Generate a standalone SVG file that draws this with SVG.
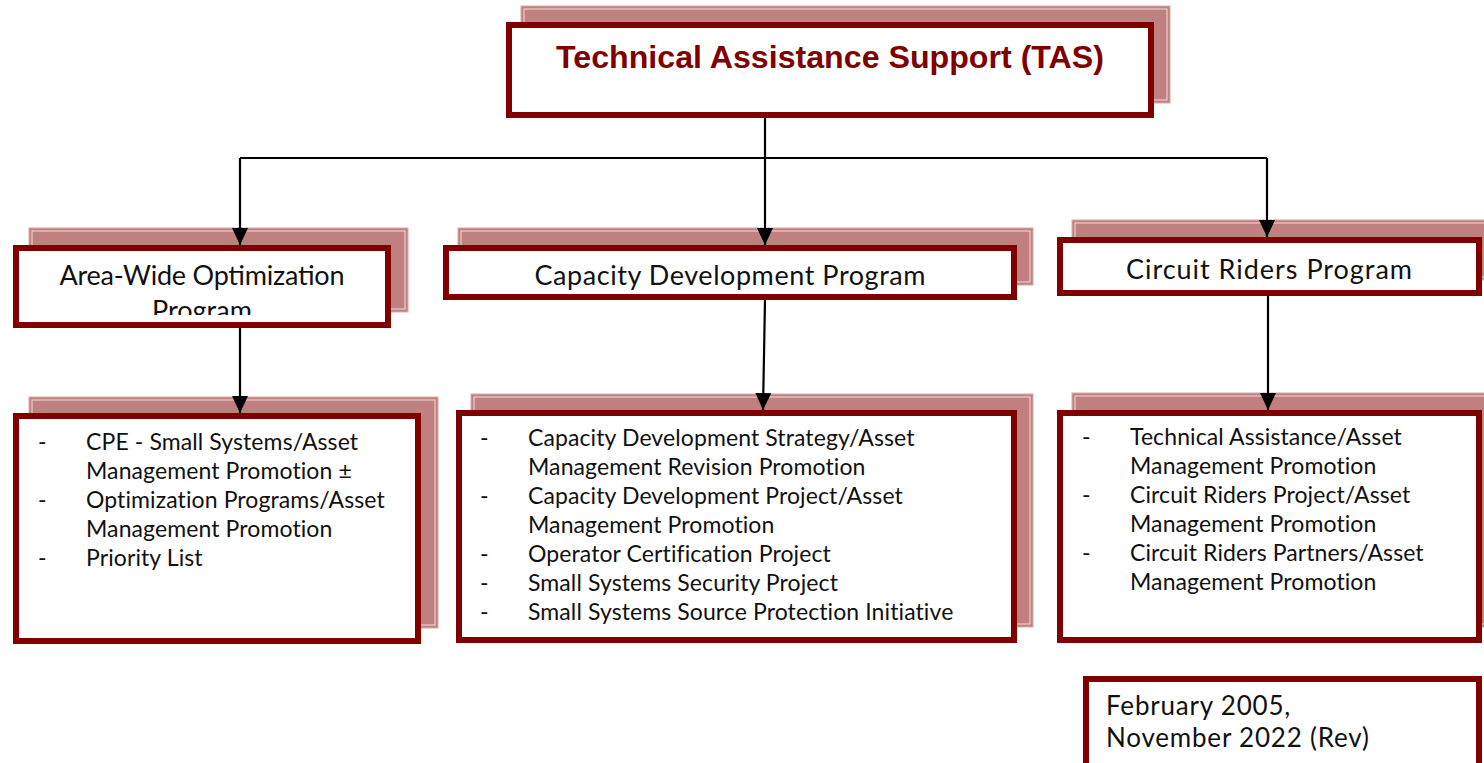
<svg xmlns="http://www.w3.org/2000/svg" width="1484" height="763" viewBox="0 0 1484 763">
<style>
.sh{fill:#C08080;stroke:#D9A8A8;stroke-width:1}
.shi{fill:none;stroke:#F2DCDC;stroke-width:1}
.bx{fill:#FFFFFF;stroke:#800000;stroke-width:6}
.title{font-family:"Liberation Sans",Arial,sans-serif;font-weight:bold;font-size:32px;fill:#800000}
.prog{font-family:"Lato","Open Sans",sans-serif;font-size:27px;fill:#111}
.item{font-family:"Lato","Open Sans",sans-serif;font-size:23px;letter-spacing:0.1px;fill:#111}
.date{font-family:"Lato","Open Sans",sans-serif;font-size:26px;letter-spacing:0.8px;fill:#111}
.conn{stroke:#000;stroke-width:2.2;fill:none}
</style>
<defs>
<marker id="ah" viewBox="0 0 17 16" refX="17" refY="8" markerWidth="17" markerHeight="16" markerUnits="userSpaceOnUse" orient="auto">
<path d="M0,0 L17,8 L0,16 Z" fill="#000"/>
</marker>
<clipPath id="clipAW"><rect x="19" y="251" width="366" height="64"/></clipPath>
</defs>
<rect width="1484" height="763" fill="#FFFFFF"/>

<g id="node-tas">
<rect class="sh" x="521" y="6" width="649" height="97"/>
<rect class="shi" x="524" y="9" width="643" height="91"/>
<rect class="bx" x="509" y="25" width="642" height="90"/>
<text class="title" x="830" y="68" text-anchor="middle" textLength="548" lengthAdjust="spacingAndGlyphs">Technical Assistance Support (TAS)</text>
</g>

<g id="node-awop">
<rect class="sh" x="29" y="228" width="379" height="84"/>
<rect class="shi" x="32" y="231" width="373" height="78"/>
<rect class="bx" x="16" y="248" width="372" height="77"/>
<g clip-path="url(#clipAW)">
<text class="prog" x="202" y="285" text-anchor="middle" textLength="285" lengthAdjust="spacing">Area-Wide Optimization</text>
<text class="prog" x="202" y="320" text-anchor="middle">Program</text>
</g>
</g>

<g id="node-cdp">
<rect class="sh" x="458" y="228" width="575" height="57"/>
<rect class="shi" x="461" y="231" width="569" height="51"/>
<rect class="bx" x="446" y="248" width="568" height="49"/>
<text class="prog" x="730" y="285" text-anchor="middle" textLength="391" lengthAdjust="spacing">Capacity Development Program</text>
</g>

<g id="node-crp">
<rect class="sh" x="1072" y="220" width="420" height="60"/>
<rect class="shi" x="1075" y="223" width="414" height="54"/>
<rect class="bx" x="1060" y="240" width="419" height="53"/>
<text class="prog" x="1269" y="279" text-anchor="middle" textLength="286" lengthAdjust="spacing">Circuit Riders Program</text>
</g>

<g id="node-awop-items">
<rect class="sh" x="29" y="397" width="409" height="231"/>
<rect class="shi" x="32" y="400" width="403" height="225"/>
<rect class="bx" x="16" y="416" width="402" height="225"/>
<g class="item">
<text x="38" y="450">-</text><text x="86" y="450">CPE - Small Systems/Asset</text>
<text x="86" y="479">Management Promotion ±</text>
<text x="38" y="508">-</text><text x="86" y="508">Optimization Programs/Asset</text>
<text x="86" y="537">Management Promotion</text>
<text x="38" y="566">-</text><text x="86" y="566">Priority List</text>
</g>
</g>

<g id="node-cdp-items">
<rect class="sh" x="471" y="394" width="562" height="233"/>
<rect class="shi" x="474" y="397" width="556" height="227"/>
<rect class="bx" x="459" y="413" width="555" height="227"/>
<g class="item">
<text x="480" y="446">-</text><text x="528" y="446">Capacity Development Strategy/Asset</text>
<text x="528" y="475">Management Revision Promotion</text>
<text x="480" y="504">-</text><text x="528" y="504">Capacity Development Project/Asset</text>
<text x="528" y="533">Management Promotion</text>
<text x="480" y="562">-</text><text x="528" y="562">Operator Certification Project</text>
<text x="480" y="591">-</text><text x="528" y="591">Small Systems Security Project</text>
<text x="480" y="620">-</text><text x="528" y="620">Small Systems Source Protection Initiative</text>
</g>
</g>

<g id="node-crp-items">
<rect class="sh" x="1072" y="393" width="420" height="234"/>
<rect class="shi" x="1075" y="396" width="414" height="228"/>
<rect class="bx" x="1060" y="413" width="419" height="227"/>
<g class="item">
<text x="1082" y="445">-</text><text x="1130" y="445">Technical Assistance/Asset</text>
<text x="1130" y="474">Management Promotion</text>
<text x="1082" y="503">-</text><text x="1130" y="503">Circuit Riders Project/Asset</text>
<text x="1130" y="532">Management Promotion</text>
<text x="1082" y="561">-</text><text x="1130" y="561">Circuit Riders Partners/Asset</text>
<text x="1130" y="590">Management Promotion</text>
</g>
</g>

<g id="node-date">
<rect class="bx" x="1086" y="679" width="393" height="95"/>
<text class="date" x="1106" y="715">February 2005,</text>
<text class="date" x="1106" y="747">November 2022 (Rev)</text>
</g>

<g id="connectors">
<path class="conn" d="M240,158 H1267"/>
<path class="conn" d="M765,118 V245" marker-end="url(#ah)"/>
<path class="conn" d="M240,158 V245" marker-end="url(#ah)"/>
<path class="conn" d="M1267,158 V237" marker-end="url(#ah)"/>
<path class="conn" d="M240,328 V413" marker-end="url(#ah)"/>
<path class="conn" d="M765,300 L763,410" marker-end="url(#ah)"/>
<path class="conn" d="M1268,296 V410" marker-end="url(#ah)"/>
</g>
</svg>
